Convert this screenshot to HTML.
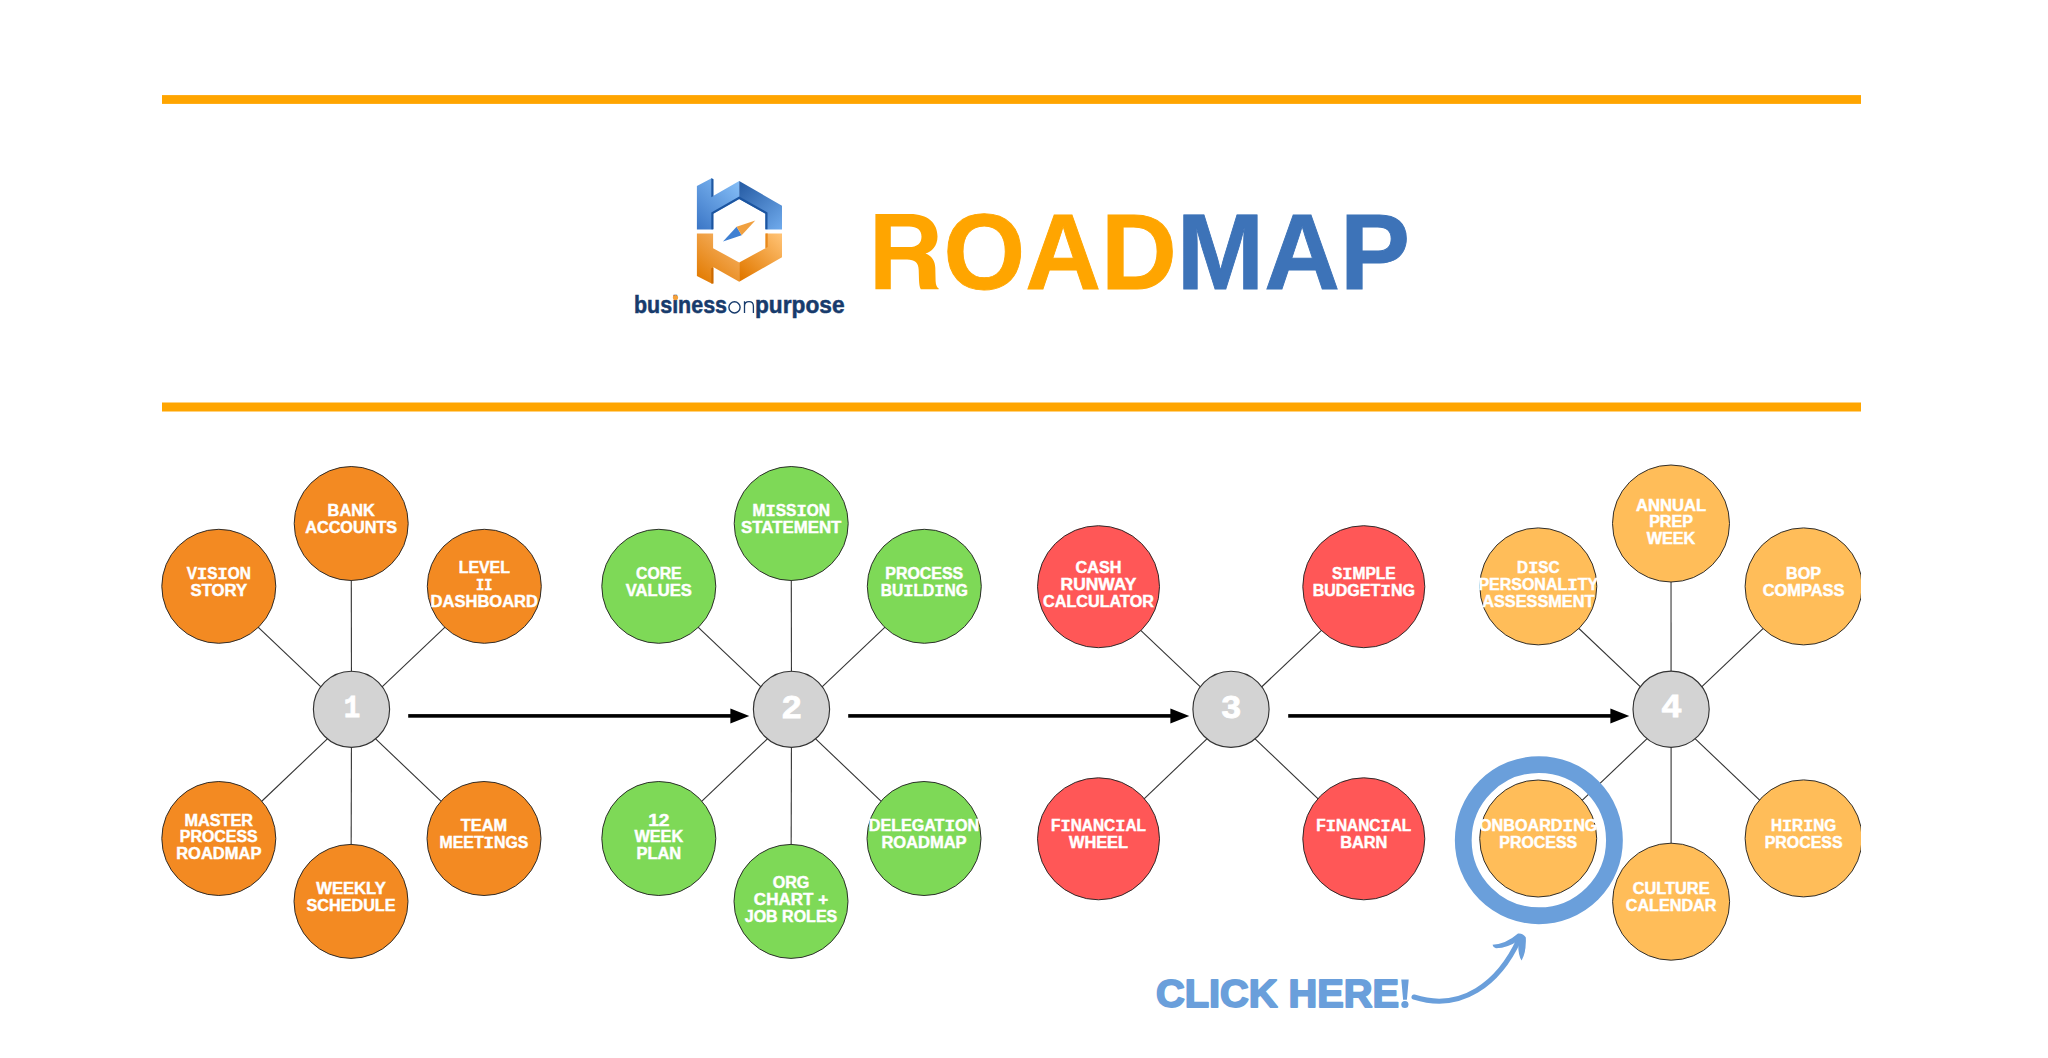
<!DOCTYPE html>
<html><head><meta charset="utf-8"><title>Roadmap</title>
<style>
html,body{margin:0;padding:0;background:#fff;width:2048px;height:1058px;overflow:hidden}
svg{display:block}
.lbl text{font-family:"Liberation Sans",sans-serif;font-weight:bold;font-size:15.8px;fill:#fff;stroke:#fff;stroke-width:0.45px;text-anchor:middle}
.lbl .I{font-family:"Liberation Mono",monospace;font-size:17.4px}
.num{font-family:"Liberation Sans",sans-serif;font-weight:bold;font-size:31px;fill:#fff;stroke:#fff;stroke-width:0.8px;text-anchor:middle}
.n1{font-family:"Liberation Mono",monospace;font-size:32px}
.title{font-family:"Liberation Sans",sans-serif;font-weight:bold;font-size:107.2px;stroke-width:0.9px;stroke-linejoin:miter}
.click{font-family:"Liberation Sans",sans-serif;font-weight:bold;font-size:38.5px;fill:#6A9FDB;stroke:#6A9FDB;stroke-width:1.8px;stroke-linejoin:round}
.bop{font-family:"Liberation Sans",sans-serif;font-size:23px;fill:#173B6C;stroke:#173B6C;stroke-width:0.5px}
</style></head><body>
<svg width="2048" height="1058" viewBox="0 0 2048 1058">
<defs>
<clipPath id="clipR"><rect x="0" y="0" width="1861" height="1058"/></clipPath>
<linearGradient id="gb1" gradientUnits="userSpaceOnUse" x1="697" y1="229" x2="739" y2="183"><stop offset="0" stop-color="#3B76C6"/><stop offset="1" stop-color="#84BDF6"/></linearGradient>
<linearGradient id="gb2" gradientUnits="userSpaceOnUse" x1="742" y1="186" x2="782" y2="229"><stop offset="0" stop-color="#2A60A8"/><stop offset="1" stop-color="#6FAAEC"/></linearGradient>
<linearGradient id="go1" gradientUnits="userSpaceOnUse" x1="700" y1="282" x2="735" y2="240"><stop offset="0" stop-color="#E27A00"/><stop offset="1" stop-color="#F6B264"/></linearGradient>
<linearGradient id="go2" gradientUnits="userSpaceOnUse" x1="742" y1="278" x2="782" y2="236"><stop offset="0" stop-color="#E27900"/><stop offset="1" stop-color="#FFC274"/></linearGradient>
</defs>
<rect x="162" y="95.1" width="1699" height="8.8" fill="#FFA500"/>
<rect x="162" y="402.5" width="1699" height="9" fill="#FFA500"/>
<!-- logo -->
<g>
<polygon fill="url(#gb1)" points="696.9,185.9 711.6,178.2 713.1,179 713.1,196.1 739.2,181 739.2,198.9 713.1,213.7 713.1,229.5 696.9,229.5"/>
<polygon fill="url(#gb2)" points="739.2,181 782,205.7 782,229.5 765.5,229.5 765.5,213.7 739.2,198.9"/>
<polygon fill="#1F58A2" points="711.3,178.3 713.5,179.3 713.5,196 711.3,197.2"/>
<polyline fill="none" stroke="#1C55A0" stroke-width="2.2" stroke-linejoin="miter" points="712.4,229.2 712.4,213.1 739.2,197.7 766.4,213.1 766.4,229.2"/>
<polygon fill="url(#go1)" points="696.9,233.5 713.1,233.5 713.1,248.2 739.2,262.4 739.2,281.7 713.1,267 713.1,283.4 711.6,283.4 696.9,276"/>
<polygon fill="url(#go2)" points="739.2,262.4 765.5,248.2 765.5,233.5 782,233.5 782,257.3 739.2,281.7"/>
<polygon fill="#CC6A00" points="711.3,268.3 713.5,267.2 713.5,283.4 711.3,283.4"/>
<polygon fill="#E8891C" points="765.5,233.5 767.7,233.5 767.7,247.0 765.5,248.2"/>
<polygon fill="#3F80D2" points="723,241.4 736.6,226.7 741.7,235.2"/>
<polygon fill="#F0A040" points="755.3,220.5 736.6,226.7 741.7,235.2"/>
<text class="bop" x="634" y="313.1"><tspan font-weight="bold" textLength="93" lengthAdjust="spacingAndGlyphs">business</tspan></text>
<circle cx="734.5" cy="307.35" r="5.6" fill="none" stroke="#173B6C" stroke-width="1.4"/>
<path d="M744.5,313.1 L744.5,301.3 M744.5,306.2 C744.5,303.2 746.5,301.7 749,301.7 C751.5,301.7 753.4,303.5 753.4,306.3 L753.4,313.1" fill="none" stroke="#173B6C" stroke-width="1.3"/>
<text class="bop" x="755" y="313.1" font-weight="bold" textLength="89.5" lengthAdjust="spacingAndGlyphs">purpose</text>
<circle cx="675.5" cy="297.6" r="2.6" fill="#F5A03A"/>
</g>
<path fill="#FFA500" fill-rule="evenodd" d="M875.4,213.9 L910,213.9 C928,213.9 937.5,223 937.5,236.5 C937.5,246 931.5,252 925.5,253.6 C932,256 935,261 935.3,268 L935.6,281 C935.8,285 936.8,287.5 938.6,288.3 L938.6,289.2 L920.8,289.2 C919.5,287 919.2,284 919,280 L918.7,270 C918.5,263 915,259.6 907,259.6 L890.8,259.6 L890.8,289.2 L875.4,289.2 Z M890.8,226.6 L890.8,247.1 L909,247.1 C917,247.1 921.5,243.5 921.5,236.8 C921.5,230 917,226.6 909,226.6 Z"/>
<text class="title" x="943.6" y="289.2" textLength="466.4" lengthAdjust="spacingAndGlyphs"><tspan fill="#FFA500" stroke="#FFA500">OAD</tspan><tspan fill="#3D73B8" stroke="#3D73B8">MAP</tspan></text>
<g clip-path="url(#clipR)">
<g stroke="#333333" stroke-width="1.1" fill="none">
<line x1="351.5" y1="715.9" x2="218.8" y2="589.9"/>
<line x1="351.5" y1="715.9" x2="351.2" y2="527.1"/>
<line x1="351.5" y1="715.9" x2="484.3" y2="589.9"/>
<line x1="351.5" y1="715.9" x2="218.8" y2="842.1"/>
<line x1="351.5" y1="715.9" x2="351.0" y2="905.0"/>
<line x1="351.5" y1="715.9" x2="484.0" y2="842.1"/>
<line x1="791.5" y1="715.9" x2="658.8" y2="589.9"/>
<line x1="791.5" y1="715.9" x2="791.2" y2="527.1"/>
<line x1="791.5" y1="715.9" x2="924.3" y2="589.9"/>
<line x1="791.5" y1="715.9" x2="658.8" y2="842.1"/>
<line x1="791.5" y1="715.9" x2="791.0" y2="905.0"/>
<line x1="791.5" y1="715.9" x2="924.0" y2="842.1"/>
<line x1="1231.0" y1="715.9" x2="1098.5" y2="590.3"/>
<line x1="1231.0" y1="715.9" x2="1363.8" y2="590.3"/>
<line x1="1231.0" y1="715.9" x2="1098.5" y2="842.4"/>
<line x1="1231.0" y1="715.9" x2="1363.8" y2="842.4"/>
<line x1="1671.1" y1="715.8" x2="1538.3" y2="590.0"/>
<line x1="1671.1" y1="715.8" x2="1671.0" y2="527.1"/>
<line x1="1671.1" y1="715.8" x2="1803.6" y2="590.0"/>
<line x1="1671.1" y1="715.8" x2="1538.2" y2="842.1"/>
<line x1="1671.1" y1="715.8" x2="1671.1" y2="905.3"/>
<line x1="1671.1" y1="715.8" x2="1803.6" y2="842.0"/>
</g>
<g stroke="#262626" stroke-width="0.95" fill="#F38A22">
<circle cx="218.8" cy="586.3" r="57.0"/>
<circle cx="351.2" cy="523.5" r="57.0"/>
<circle cx="484.3" cy="586.3" r="57.0"/>
<circle cx="218.8" cy="838.5" r="57.0"/>
<circle cx="351.0" cy="901.4" r="57.0"/>
<circle cx="484.0" cy="838.5" r="57.0"/>
</g>
<circle cx="351.5" cy="709.3" r="38.1" fill="#D3D3D3" stroke="#333333" stroke-width="1.15"/>
<g stroke="#262626" stroke-width="0.95" fill="#7ED957">
<circle cx="658.8" cy="586.3" r="57.0"/>
<circle cx="791.2" cy="523.5" r="57.0"/>
<circle cx="924.3" cy="586.3" r="57.0"/>
<circle cx="658.8" cy="838.5" r="57.0"/>
<circle cx="791.0" cy="901.4" r="57.0"/>
<circle cx="924.0" cy="838.5" r="57.0"/>
</g>
<circle cx="791.5" cy="709.3" r="38.1" fill="#D3D3D3" stroke="#333333" stroke-width="1.15"/>
<g stroke="#262626" stroke-width="0.95" fill="#FF5757">
<circle cx="1098.5" cy="586.7" r="61.0"/>
<circle cx="1363.8" cy="586.7" r="61.0"/>
<circle cx="1098.5" cy="838.8" r="61.0"/>
<circle cx="1363.8" cy="838.8" r="61.0"/>
</g>
<circle cx="1231.0" cy="709.3" r="38.1" fill="#D3D3D3" stroke="#333333" stroke-width="1.15"/>
<g stroke="#262626" stroke-width="0.95" fill="#FFBD59">
<circle cx="1538.3" cy="586.4" r="58.5"/>
<circle cx="1671.0" cy="523.5" r="58.5"/>
<circle cx="1803.6" cy="586.4" r="58.5"/>
<circle cx="1538.2" cy="838.5" r="58.5"/>
<circle cx="1671.1" cy="901.7" r="58.5"/>
<circle cx="1803.6" cy="838.4" r="58.5"/>
</g>
<circle cx="1671.1" cy="709.2" r="38.1" fill="#D3D3D3" stroke="#333333" stroke-width="1.15"/>
<g class="lbl">
<text x="218.8" y="579.0" textLength="64.1" lengthAdjust="spacingAndGlyphs">V<tspan class="I">I</tspan>S<tspan class="I">I</tspan>ON</text>
<text x="218.8" y="595.8" textLength="56.6" lengthAdjust="spacingAndGlyphs">STORY</text>
<text x="351.2" y="516.2" textLength="47.2" lengthAdjust="spacingAndGlyphs">BANK</text>
<text x="351.2" y="533.0" textLength="92.0" lengthAdjust="spacingAndGlyphs">ACCOUNTS</text>
<text x="484.3" y="573.3" textLength="51.2" lengthAdjust="spacingAndGlyphs">LEVEL</text>
<text x="484.3" y="590.1" textLength="16.4" lengthAdjust="spacingAndGlyphs"><tspan class="I">I</tspan><tspan class="I">I</tspan></text>
<text x="484.3" y="606.9" textLength="107.4" lengthAdjust="spacingAndGlyphs">DASHBOARD</text>
<text x="218.8" y="825.5" textLength="68.6" lengthAdjust="spacingAndGlyphs">MASTER</text>
<text x="218.8" y="842.3" textLength="77.9" lengthAdjust="spacingAndGlyphs">PROCESS</text>
<text x="218.8" y="859.1" textLength="85.2" lengthAdjust="spacingAndGlyphs">ROADMAP</text>
<text x="351.0" y="894.1" textLength="69.5" lengthAdjust="spacingAndGlyphs">WEEKLY</text>
<text x="351.0" y="910.9" textLength="89.0" lengthAdjust="spacingAndGlyphs">SCHEDULE</text>
<text x="484.0" y="831.2" textLength="46.3" lengthAdjust="spacingAndGlyphs">TEAM</text>
<text x="484.0" y="848.0" textLength="88.8" lengthAdjust="spacingAndGlyphs">MEET<tspan class="I">I</tspan>NGS</text>
</g>
<text class="num n1" x="352.1" y="717.1999999999999" textLength="16.5" lengthAdjust="spacingAndGlyphs">1</text>
<g class="lbl">
<text x="658.8" y="579.0" textLength="45.5" lengthAdjust="spacingAndGlyphs">CORE</text>
<text x="658.8" y="595.8" textLength="66.0" lengthAdjust="spacingAndGlyphs">VALUES</text>
<text x="791.2" y="516.2" textLength="77.4" lengthAdjust="spacingAndGlyphs">M<tspan class="I">I</tspan>SS<tspan class="I">I</tspan>ON</text>
<text x="791.2" y="533.0" textLength="100.2" lengthAdjust="spacingAndGlyphs">STATEMENT</text>
<text x="924.3" y="579.0" textLength="77.9" lengthAdjust="spacingAndGlyphs">PROCESS</text>
<text x="924.3" y="595.8" textLength="87.1" lengthAdjust="spacingAndGlyphs">BU<tspan class="I">I</tspan>LD<tspan class="I">I</tspan>NG</text>
<text x="658.8" y="825.5" textLength="21.3" lengthAdjust="spacingAndGlyphs">12</text>
<text x="658.8" y="842.3" textLength="48.6" lengthAdjust="spacingAndGlyphs">WEEK</text>
<text x="658.8" y="859.1" textLength="44.7" lengthAdjust="spacingAndGlyphs">PLAN</text>
<text x="791.0" y="888.4" textLength="36.7" lengthAdjust="spacingAndGlyphs">ORG</text>
<text x="791.0" y="905.2" textLength="74.3" lengthAdjust="spacingAndGlyphs">CHART +</text>
<text x="791.0" y="922.0" textLength="92.5" lengthAdjust="spacingAndGlyphs">JOB ROLES</text>
<text x="924.0" y="831.2" textLength="110.3" lengthAdjust="spacingAndGlyphs">DELEGAT<tspan class="I">I</tspan>ON</text>
<text x="924.0" y="848.0" textLength="85.2" lengthAdjust="spacingAndGlyphs">ROADMAP</text>
</g>
<text class="num" x="791.8" y="717.5" textLength="19.5" lengthAdjust="spacingAndGlyphs">2</text>
<g class="lbl">
<text x="1098.5" y="573.1" textLength="45.9" lengthAdjust="spacingAndGlyphs">CASH</text>
<text x="1098.5" y="589.9" textLength="75.8" lengthAdjust="spacingAndGlyphs">RUNWAY</text>
<text x="1098.5" y="606.7" textLength="110.9" lengthAdjust="spacingAndGlyphs">CALCULATOR</text>
<text x="1363.8" y="578.7" textLength="63.8" lengthAdjust="spacingAndGlyphs">S<tspan class="I">I</tspan>MPLE</text>
<text x="1363.8" y="595.5" textLength="102.2" lengthAdjust="spacingAndGlyphs">BUDGET<tspan class="I">I</tspan>NG</text>
<text x="1098.5" y="830.8" textLength="94.9" lengthAdjust="spacingAndGlyphs">F<tspan class="I">I</tspan>NANC<tspan class="I">I</tspan>AL</text>
<text x="1098.5" y="847.6" textLength="59.1" lengthAdjust="spacingAndGlyphs">WHEEL</text>
<text x="1363.8" y="830.8" textLength="94.9" lengthAdjust="spacingAndGlyphs">F<tspan class="I">I</tspan>NANC<tspan class="I">I</tspan>AL</text>
<text x="1363.8" y="847.6" textLength="47.2" lengthAdjust="spacingAndGlyphs">BARN</text>
</g>
<text class="num" x="1231.3" y="717.5" textLength="19.5" lengthAdjust="spacingAndGlyphs">3</text>
<g class="lbl">
<text x="1538.3" y="573.4" textLength="42.4" lengthAdjust="spacingAndGlyphs">D<tspan class="I">I</tspan>SC</text>
<text x="1538.3" y="590.2" textLength="119.7" lengthAdjust="spacingAndGlyphs">PERSONAL<tspan class="I">I</tspan>TY</text>
<text x="1538.3" y="607.0" textLength="112.1" lengthAdjust="spacingAndGlyphs">ASSESSMENT</text>
<text x="1671.0" y="510.5" textLength="70.1" lengthAdjust="spacingAndGlyphs">ANNUAL</text>
<text x="1671.0" y="527.3" textLength="43.7" lengthAdjust="spacingAndGlyphs">PREP</text>
<text x="1671.0" y="544.1" textLength="48.6" lengthAdjust="spacingAndGlyphs">WEEK</text>
<text x="1803.6" y="579.1" textLength="35.1" lengthAdjust="spacingAndGlyphs">BOP</text>
<text x="1803.6" y="595.9" textLength="81.9" lengthAdjust="spacingAndGlyphs">COMPASS</text>
<text x="1538.2" y="831.2" textLength="118.4" lengthAdjust="spacingAndGlyphs">ONBOARD<tspan class="I">I</tspan>NG</text>
<text x="1538.2" y="848.0" textLength="77.9" lengthAdjust="spacingAndGlyphs">PROCESS</text>
<text x="1671.1" y="894.4" textLength="76.9" lengthAdjust="spacingAndGlyphs">CULTURE</text>
<text x="1671.1" y="911.2" textLength="90.6" lengthAdjust="spacingAndGlyphs">CALENDAR</text>
<text x="1803.6" y="831.1" textLength="65.4" lengthAdjust="spacingAndGlyphs">H<tspan class="I">I</tspan>R<tspan class="I">I</tspan>NG</text>
<text x="1803.6" y="847.9" textLength="77.9" lengthAdjust="spacingAndGlyphs">PROCESS</text>
</g>
<text class="num" x="1671.3999999999999" y="717.4000000000001" textLength="19.5" lengthAdjust="spacingAndGlyphs">4</text>
</g>
<rect x="408.2" y="714.1" width="323.2" height="3.6" fill="#000"/>
<polygon points="730.4,708.4 749.3,716.0 730.4,723.5" fill="#000"/>
<rect x="848.2" y="714.1" width="323.20000000000005" height="3.6" fill="#000"/>
<polygon points="1170.4,708.4 1189.3,716.0 1170.4,723.5" fill="#000"/>
<rect x="1288.2" y="714.1" width="323.20000000000005" height="3.6" fill="#000"/>
<polygon points="1610.4,708.4 1629.3,716.0 1610.4,723.5" fill="#000"/>
<circle cx="1538.85" cy="840.15" r="75.6" fill="none" stroke="#6A9FDB" stroke-width="16.8"/>
<text class="click" x="1156" y="1007.2" textLength="243" lengthAdjust="spacingAndGlyphs">CLICK HERE</text>
<path d="M1401.3,979.6 L1408.7,979.6 L1406.9,999.8 L1403.1,999.8 Z" fill="#6A9FDB"/><circle cx="1404.9" cy="1004.5" r="3.6" fill="#6A9FDB"/>
<path d="M1414,997 C1461.4,1012.2 1499,983.2 1519,939.6" fill="none" stroke="#6A9FDB" stroke-width="5" stroke-linecap="round"/>
<path d="M1492.5,944.8 Q1506,944 1518,933.5 Q1523,933 1525.8,937.5 Q1526.5,952 1521.6,960.5 Q1518,955 1518.3,944 L1519,940 Q1508,948 1496,948.3 Q1493,947.5 1492.5,944.8 Z" fill="#6A9FDB"/>
</svg>
</body></html>
